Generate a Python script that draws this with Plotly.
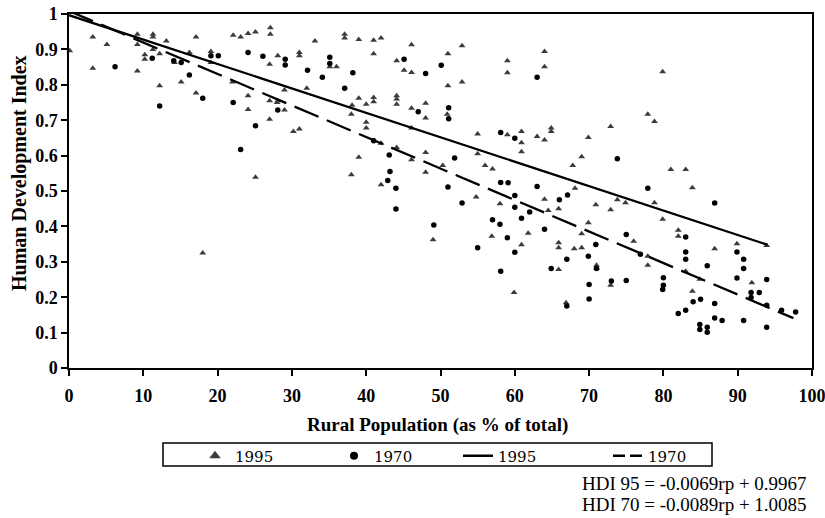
import plotly.graph_objects as go

# ---- data ----
rural_1995 = [0.1, 3.2, 3.2, 5.1, 9.2, 9.2, 9.2, 10.2, 10.2, 11.3, 11.3, 11.3, 12.2, 13.1, 12.2, 14.2,
              15.1, 16.2, 17.1, 17.1, 19.1, 19.1, 22.1, 23.1, 24.1, 25.1, 27.1, 27.1, 28.1, 27.0, 22.0,
              24.1, 24.1, 27.0, 27.0, 28.1, 25.1, 18.0,
              31.0, 31.0, 33.1, 35.1, 36.0, 37.1, 37.1, 39.0, 41.0, 42.0, 41.0, 44.1, 45.1, 46.1, 46.1,
              51.0, 52.9, 51.0, 52.9, 32.0, 29.0, 28.0, 29.0, 30.2, 31.0, 38.1, 38.0, 39.0, 40.0, 41.0,
              41.0, 40.0, 40.0, 44.1, 44.1, 44.1, 46.1, 48.0, 48.0, 46.1, 50.9, 39.0, 38.0, 42.0, 44.1,
              46.1, 48.0, 48.0, 50.3, 42.0, 55.0, 55.0, 56.0, 57.0, 54.8, 59.0, 60.9, 60.9, 60.9, 59.0,
              59.0, 63.0, 64.0, 64.0, 64.0, 64.0,
              79.9, 77.9, 78.8, 64.9, 64.9, 69.9, 72.9, 69.0, 67.8, 68.1, 81.0, 83.0, 83.9,
              49.0, 58.0, 56.9, 59.9, 60.9, 61.8, 64.5,
              65.9, 65.9, 65.9, 65.9, 66.9, 68.0, 69.0, 69.0, 69.9, 70.9, 71.0, 71.0, 72.9, 72.9, 73.8,
              74.9, 76.0, 77.9, 77.9, 78.8, 79.9, 82.0, 82.0, 83.0, 84.9, 83.9, 86.9, 89.9, 91.9, 93.9]
hdi_1995 = [0.896, 0.935, 0.847, 0.914, 0.943, 0.914, 0.839, 0.885, 0.872, 0.943, 0.935, 0.900, 0.888,
            0.924, 0.797, 0.863, 0.808, 0.891, 0.935, 0.777, 0.894, 0.863, 0.940, 0.935, 0.945, 0.949,
            0.961, 0.943, 0.882, 0.858, 0.808, 0.769, 0.730, 0.755, 0.703, 0.755, 0.539, 0.325,
            0.891, 0.882, 0.924, 0.851, 0.851, 0.943, 0.932, 0.928, 0.926, 0.932, 0.888, 0.868, 0.841,
            0.913, 0.835, 0.888, 0.910, 0.797, 0.808, 0.790, 0.785, 0.750, 0.729, 0.668, 0.675, 0.742,
            0.717, 0.762, 0.745, 0.764, 0.752, 0.694, 0.678, 0.769, 0.760, 0.745, 0.734, 0.748, 0.706,
            0.678, 0.717, 0.595, 0.546, 0.635, 0.623, 0.588, 0.609, 0.553, 0.572, 0.518, 0.661, 0.605,
            0.572, 0.562, 0.483, 0.659, 0.668, 0.636, 0.611, 0.868, 0.834, 0.654, 0.644, 0.894, 0.851,
            0.477,
            0.837, 0.717, 0.696, 0.678, 0.668, 0.651, 0.682, 0.597, 0.572, 0.508, 0.561, 0.561, 0.509,
            0.362, 0.464, 0.372, 0.213, 0.348, 0.381, 0.445,
            0.450, 0.354, 0.340, 0.278, 0.184, 0.337, 0.379, 0.340, 0.410, 0.461, 0.290, 0.282, 0.447,
            0.234, 0.475, 0.467, 0.358, 0.316, 0.290, 0.467, 0.420, 0.389, 0.372, 0.273, 0.251, 0.217,
            0.337, 0.351, 0.241, 0.346]

rural_1970 = [6.2, 11.2, 12.2, 14.1, 15.1, 16.2, 18.0, 19.1, 20.1, 22.1, 23.1, 24.1, 25.1, 26.1, 28.1,
              29.1, 29.1, 32.1, 34.1, 35.1, 35.1, 38.2, 37.1, 45.1, 48.0, 50.1, 47.0, 51.1, 51.1, 41.0,
              43.1, 43.2, 42.9, 44.0, 51.9, 51.0, 58.1, 60.0, 58.1, 59.1, 60.0, 63.0, 63.0,
              73.8, 77.9, 67.1, 66.0,
              44.0, 49.1, 52.9, 55.0, 57.0, 58.0, 58.1, 59.0, 60.0, 60.0, 60.9, 62.0, 64.0,
              64.9, 67.0, 67.0, 69.9, 70.0, 70.0, 70.9, 71.0, 73.0, 75.0, 75.0, 76.9, 80.0, 80.0, 79.9,
              83.0, 83.0, 83.0, 82.0, 83.0, 84.0, 85.0, 84.9, 84.9, 85.9, 85.9, 85.9, 86.9, 86.9, 86.9,
              87.9, 89.9, 89.9, 90.8, 90.8, 90.8, 91.8, 91.8, 92.9, 93.9, 93.9, 93.9, 95.9, 97.8]
hdi_1970 = [0.851, 0.875, 0.740, 0.868, 0.863, 0.828, 0.762, 0.882, 0.882, 0.750, 0.617, 0.891, 0.684,
            0.881, 0.729, 0.872, 0.856, 0.841, 0.821, 0.878, 0.860, 0.834, 0.790, 0.872, 0.832, 0.855,
            0.724, 0.735, 0.704, 0.642, 0.602, 0.555, 0.530, 0.508, 0.593, 0.511, 0.665, 0.649, 0.524,
            0.523, 0.487, 0.513, 0.821,
            0.591, 0.508, 0.489, 0.475,
            0.449, 0.404, 0.466, 0.340, 0.419, 0.406, 0.273, 0.368, 0.454, 0.327, 0.423, 0.441, 0.392,
            0.281, 0.307, 0.175, 0.316, 0.236, 0.195, 0.349, 0.281, 0.246, 0.377, 0.247, 0.321, 0.255,
            0.234, 0.222, 0.370, 0.328, 0.307, 0.154, 0.163, 0.187, 0.194, 0.123, 0.109, 0.115, 0.101,
            0.289, 0.182, 0.466, 0.141, 0.134, 0.328, 0.254, 0.307, 0.281, 0.134, 0.213, 0.199, 0.213,
            0.250, 0.177, 0.115, 0.163, 0.158]

# regression lines (from the chart's equations) and their x extents
slope_95, intercept_95, xrange_95 = -0.0069, 0.9967, [0, 94]
slope_70, intercept_70, xrange_70 = -0.0089, 1.0085, [0, 97.5]

x_ticks = list(range(0, 101, 10))
legend_labels = ["1995", "1970", "1995", "1970"]
eq_texts = ["HDI 95 = -0.0069rp + 0.9967", "HDI 70 = -0.0089rp + 1.0085"]

W, H = 825, 518
L, R, T, B = 69, 13, 14, 150
PW, PH = W - L - R, H - T - B


def px_x(p):
    return (p - L) / PW


def px_y(p):
    return (H - B - p) / PH


TICKFONT = dict(family="Liberation Serif", size=18, color="black", weight="bold")
LEGFONT = dict(family="DejaVu Serif", size=15, color="black")

fig = go.Figure()

fig.add_trace(go.Scatter(x=rural_1995, y=hdi_1995, mode="markers",
                         marker=dict(symbol="triangle-up", size=6, color="#3c3c3c"),
                         cliponaxis=False, showlegend=False))
fig.add_trace(go.Scatter(x=rural_1970, y=hdi_1970, mode="markers",
                         marker=dict(symbol="circle", size=5.5, color="black"),
                         cliponaxis=False, showlegend=False))
fig.add_trace(go.Scatter(x=xrange_95, y=[intercept_95 + slope_95 * v for v in xrange_95], mode="lines",
                         line=dict(color="black", width=2.3), showlegend=False))
fig.add_trace(go.Scatter(x=xrange_70, y=[intercept_70 + slope_70 * v for v in xrange_70], mode="lines",
                         line=dict(color="black", width=2.3, dash="26px,9px"), showlegend=False))

# legend entries
leg_styles = [
    dict(mode="markers", marker=dict(symbol="triangle-up", size=10, color="#3c3c3c")),
    dict(mode="markers", marker=dict(symbol="circle", size=8, color="black")),
    dict(mode="lines", line=dict(color="black", width=2.3)),
    dict(mode="lines", line=dict(color="black", width=2.3, dash="12px,5px")),
]
leg_x = [195, 334, 458, 608]
leg_names = ["legend", "legend2", "legend3", "legend4"]
for i, (lab, st) in enumerate(zip(legend_labels, leg_styles)):
    fig.add_trace(go.Scatter(x=[None], y=[None], name=lab, legend=leg_names[i], showlegend=True, **st))

layout_legends = {}
for i, nm in enumerate(leg_names):
    layout_legends[nm] = dict(x=px_x(leg_x[i]), y=px_y(456), xanchor="left", yanchor="middle",
                              bgcolor="rgba(0,0,0,0)", borderwidth=0, font=LEGFONT)

fig.update_layout(
    width=W, height=H,
    margin=dict(l=L, r=R, t=T, b=B, autoexpand=False),
    paper_bgcolor="white", plot_bgcolor="white",
    **layout_legends,
    xaxis=dict(range=[0, 100], tickvals=x_ticks, ticks="outside", ticklen=6, tickwidth=1.5,
               tickcolor="black", showline=True, linecolor="black", linewidth=1.5, mirror=True,
               showgrid=False, zeroline=False, tickfont=TICKFONT, ticklabelstandoff=5,
               ticklabeloverflow="allow", automargin=False),
    yaxis=dict(range=[0, 1], tick0=0, dtick=0.1, ticks="outside", ticklen=6, tickwidth=1.5,
               tickcolor="black", showline=True, linecolor="black", linewidth=1.5, mirror=True,
               showgrid=False, zeroline=False, tickfont=TICKFONT, automargin=False),
    shapes=[dict(type="rect", xref="paper", yref="paper",
                 x0=px_x(163), x1=px_x(712), y0=px_y(443), y1=px_y(466),
                 line=dict(color="black", width=1.5), fillcolor="rgba(0,0,0,0)")],
    annotations=[
        dict(text="<b>Rural Population (as % of total)</b>", xref="paper", yref="paper",
             x=px_x(437.5), y=px_y(425), xanchor="center", yanchor="middle", showarrow=False,
             font=dict(family="Liberation Serif", size=19, color="black")),
        dict(text="<b>Human Development Index</b>", xref="paper", yref="paper", textangle=-90,
             x=px_x(19), y=px_y(173), xanchor="center", yanchor="middle", showarrow=False,
             font=dict(family="Liberation Serif", size=20, color="black")),
        dict(text=eq_texts[0], xref="paper", yref="paper", x=px_x(809), y=px_y(484),
             xanchor="right", yanchor="middle", showarrow=False,
             font=dict(family="Liberation Serif", size=19, color="black")),
        dict(text=eq_texts[1], xref="paper", yref="paper", x=px_x(809), y=px_y(504),
             xanchor="right", yanchor="middle", showarrow=False,
             font=dict(family="Liberation Serif", size=19, color="black")),
    ],
)

fig.write_html("out.html")
